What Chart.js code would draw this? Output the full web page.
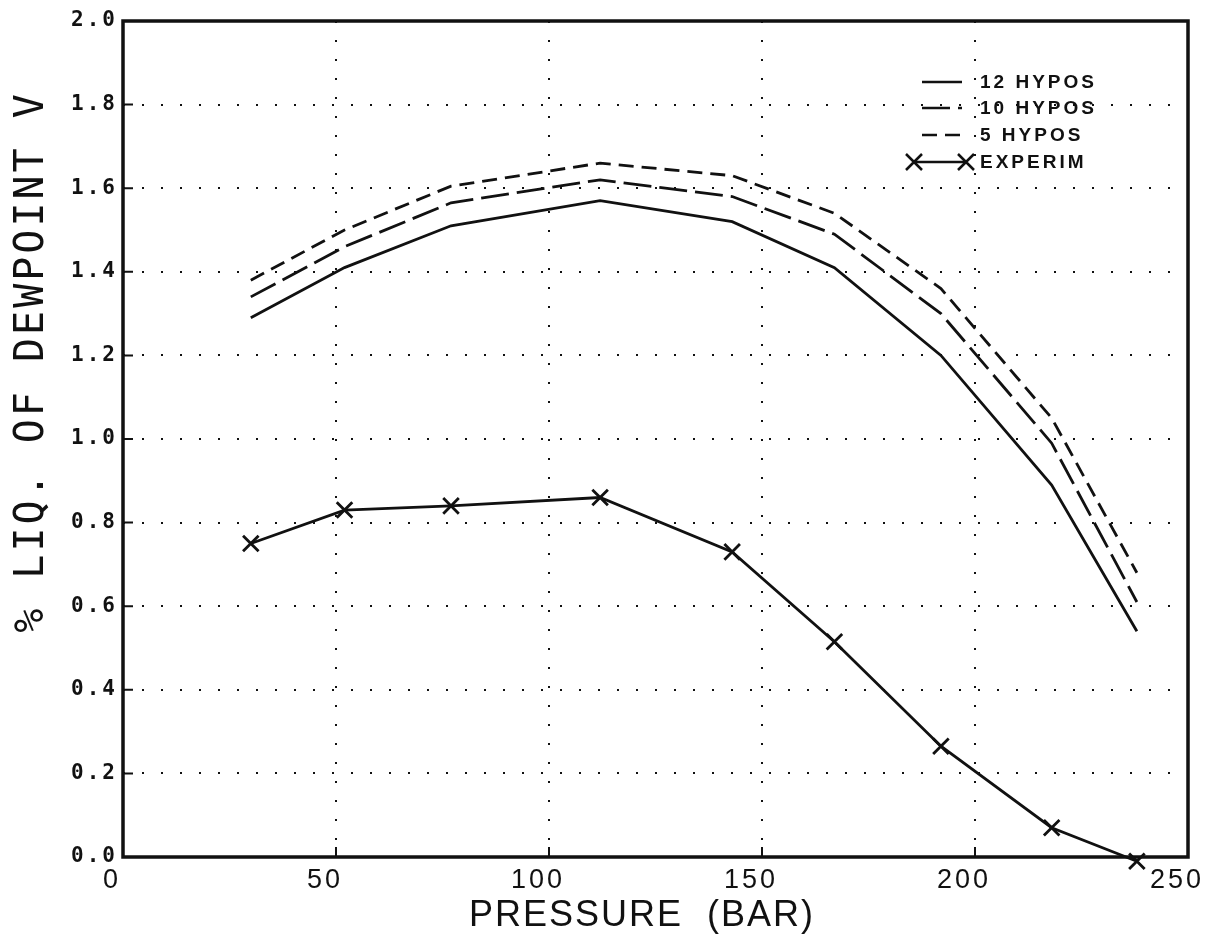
<!DOCTYPE html>
<html>
<head>
<meta charset="utf-8">
<title>% LIQ. OF DEWPOINT V</title>
<script src="https://cdn.jsdelivr.net/npm/chart.js@4.4.1/dist/chart.umd.min.js"></script>
<style>
  html, body { margin: 0; padding: 0; background: #fff; }
  #wrap { width: 1207px; height: 944px; }
</style>
</head>
<body>
<div id="wrap"><canvas id="the-graph" width="1207" height="944"></canvas></div>
<script>
// pressure (bar) of each calculated / measured point
var pressure = [30, 52, 77, 112, 143, 167, 192, 218, 238];

// % liquid of dewpoint volume
var hypos12 = [1.29, 1.41, 1.51, 1.57, 1.52, 1.41, 1.20, 0.89, 0.54];
var hypos10 = [1.34, 1.46, 1.565, 1.62, 1.58, 1.49, 1.30, 0.99, 0.61];
var hypos5  = [1.38, 1.50, 1.605, 1.66, 1.63, 1.54, 1.36, 1.05, 0.68];
var experim = [0.75, 0.83, 0.84, 0.86, 0.73, 0.515, 0.265, 0.07, -0.01];

var seriesLabels = ['12 HYPOS', '10 HYPOS', '5 HYPOS', 'EXPERIM'];
var xTicks = [0, 50, 100, 150, 200, 250];
var yTicks = [0, 0.2, 0.4, 0.6, 0.8, 1.0, 1.2, 1.4, 1.6, 1.8, 2.0];

var INK = '#111';

function points(ys) {
  return ys.map(function (y, i) { return { x: pressure[i], y: y }; });
}

function series(label, ys, dash, marker) {
  return {
    label: label,
    data: points(ys),
    borderColor: INK,
    backgroundColor: INK,
    borderWidth: 2.8,
    borderDash: dash,
    pointStyle: marker ? 'crossRot' : false,
    pointRadius: marker ? 11 : 0,
    pointBorderWidth: 2.8,
    pointBorderColor: INK,
    tension: 0,
    clip: false
  };
}

// plotter look: heavy frame, inward ticks, spaced lettering, hand-placed key
var plotter = {
  id: 'plotter',
  beforeDraw: function (chart) {
    var ctx = chart.ctx;
    ctx.save();
    ctx.fillStyle = '#fff';
    ctx.fillRect(0, 0, chart.width, chart.height);
    ctx.restore();
    ctx.letterSpacing = '3px';
  },
  beforeDatasetsDraw: function (chart) {
    var ctx = chart.ctx, a = chart.chartArea;
    var xs = chart.scales.x, ys = chart.scales.y;
    ctx.save();
    ctx.strokeStyle = INK;
    ctx.lineWidth = 2;
    ctx.beginPath();
    xTicks.slice(1, -1).forEach(function (v) {
      var px = xs.getPixelForValue(v);
      ctx.moveTo(px, a.bottom);
      ctx.lineTo(px, a.bottom - 10);
    });
    yTicks.slice(1, -1).forEach(function (v) {
      var py = ys.getPixelForValue(v);
      ctx.moveTo(a.left, py);
      ctx.lineTo(a.left + 10, py);
    });
    ctx.stroke();
    ctx.lineWidth = 3.5;
    ctx.strokeRect(a.left, a.top, a.right - a.left, a.bottom - a.top);
    ctx.restore();
  },
  afterDraw: function (chart) {
    var ctx = chart.ctx;
    ctx.save();
    ctx.fillStyle = INK;
    ctx.textAlign = 'center';
    ctx.textBaseline = 'middle';

    ctx.letterSpacing = '2px';
    ctx.font = '36px "Liberation Sans"';
    ctx.fillText('PRESSURE  (BAR)', 642, 916);

    ctx.save();
    ctx.translate(33, 362);
    ctx.rotate(-Math.PI / 2);
    ctx.letterSpacing = '3px';
    ctx.font = '40px "DejaVu Sans Mono"';
    ctx.fillText('% LIQ. OF DEWPOINT V', 0, 0);
    ctx.restore();

    // key
    var x0 = 922, x1 = 962, tx = 980, rowY = [82, 108, 135, 162];
    ctx.textAlign = 'left';
    ctx.letterSpacing = '3px';
    ctx.font = 'bold 19px "Liberation Sans"';
    chart.data.datasets.forEach(function (ds, i) {
      var y = rowY[i];
      ctx.strokeStyle = INK;
      ctx.lineWidth = 2.5;
      ctx.setLineDash(ds.borderDash || []);
      ctx.beginPath();
      if (ds.pointRadius) {
        ctx.moveTo(x0 - 8, y);
        ctx.lineTo(x1 + 4, y);
        ctx.stroke();
        ctx.setLineDash([]);
        [x0 - 8, x1 + 4].forEach(function (cx) {
          var r = 8;
          ctx.beginPath();
          ctx.moveTo(cx - r, y - r); ctx.lineTo(cx + r, y + r);
          ctx.moveTo(cx - r, y + r); ctx.lineTo(cx + r, y - r);
          ctx.stroke();
        });
      } else {
        ctx.moveTo(x0, y);
        ctx.lineTo(x1, y);
        ctx.stroke();
      }
      ctx.setLineDash([]);
      ctx.fillText(ds.label, tx, y + 1);
    });
    ctx.restore();
    ctx.letterSpacing = '0px';
  }
};

var chart = new Chart(document.getElementById('the-graph'), {
  type: 'line',
  data: {
    datasets: [
      series(seriesLabels[0], hypos12, [], false),
      series(seriesLabels[1], hypos10, [28, 8], false),
      series(seriesLabels[2], hypos5, [15, 8], false),
      series(seriesLabels[3], experim, [], true)
    ]
  },
  options: {
    responsive: false,
    animation: false,
    devicePixelRatio: 1,
    layout: { padding: { top: 21, right: 19, left: 0, bottom: 0 } },
    plugins: { legend: { display: false }, tooltip: { enabled: false } },
    scales: {
      x: {
        type: 'linear',
        min: 0,
        max: 250,
        afterBuildTicks: function (s) { s.ticks = xTicks.map(function (v) { return { value: v }; }); },
        afterFit: function (s) { s.height = 87; s.paddingLeft = 0; s.paddingRight = 0; },
        grid: { color: INK, lineWidth: 2, drawTicks: false },
        border: { display: false, dash: [2, 17] },
        ticks: {
          color: INK,
          padding: 7,
          labelOffset: -11,
          maxRotation: 0,
          font: { family: 'Liberation Sans', size: 27 }
        }
      },
      y: {
        min: 0,
        max: 2,
        afterBuildTicks: function (s) { s.ticks = yTicks.map(function (v) { return { value: v }; }); },
        afterFit: function (s) { s.width = 123; s.paddingTop = 0; s.paddingBottom = 0; },
        grid: { color: INK, lineWidth: 2, drawTicks: false },
        border: { display: false, dash: [2, 17] },
        ticks: {
          color: INK,
          padding: 5,
          font: { family: 'DejaVu Sans Mono', size: 21, weight: 'bold' },
          callback: function (v) { return v.toFixed(1); }
        }
      }
    }
  },
  plugins: [plotter]
});
</script>
</body>
</html>
